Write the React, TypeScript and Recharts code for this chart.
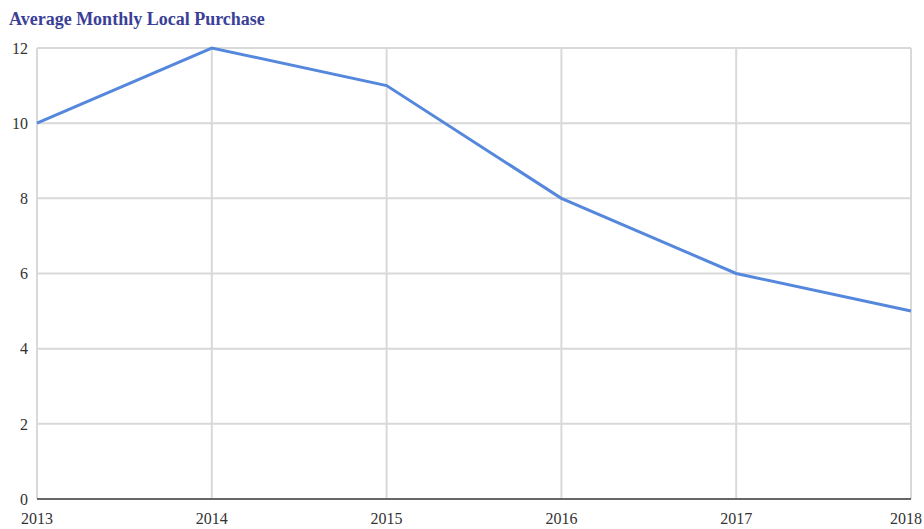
import { LineChart, Line, XAxis, YAxis, CartesianGrid } from 'recharts';

const years = ['2013', '2014', '2015', '2016', '2017', '2018'];
const purchases = [10, 12, 11, 8, 6, 5];
const yTicks = [0, 2, 4, 6, 8, 10, 12];

const data = years.map((year, i) => ({ year, value: purchases[i] }));

const FONT = '"Liberation Serif", "DejaVu Serif", serif';

function YearTick(props: any) {
  const { x, y, payload } = props;
  // keep the last label inside the picture
  const overflow = x + 18 > 922;
  return (
    <text
      x={overflow ? 922 : x}
      y={y}
      dy="0.71em"
      textAnchor={overflow ? 'end' : 'middle'}
      fill="#333"
      fontSize={16}
      fontFamily={FONT}
    >
      {payload.value}
    </text>
  );
}

export default function App() {
  return (
    <div style={{ position: 'absolute', left: 0, top: 0, width: 924, height: 529, background: '#fff' }}>
      <div
        style={{
          position: 'absolute',
          left: 9,
          top: 10,
          fontFamily: FONT,
          fontWeight: 'bold',
          fontSize: 18,
          lineHeight: '18px',
          color: '#3b3f97',
        }}
      >
        Average Monthly Local Purchase
      </div>
      <LineChart
        width={924}
        height={529}
        data={data}
        margin={{ top: 48, right: 13, left: 0, bottom: 0 }}
      >
        <CartesianGrid stroke="#d9d9d9" strokeWidth={2} />
        <XAxis
          dataKey="year"
          height={30}
          tickLine={false}
          axisLine={{ stroke: '#666', strokeWidth: 2 }}
          tickSize={0}
          tickMargin={14}
          tick={<YearTick />}
          interval={0}
        />
        <YAxis
          width={37}
          domain={[0, 12]}
          ticks={yTicks}
          axisLine={false}
          tickLine={false}
          tickSize={0}
          tickMargin={9}
          tick={{ fill: '#333', fontSize: 16, fontFamily: FONT }}
        />
        <Line
          type="linear"
          dataKey="value"
          stroke="#5588dd"
          strokeWidth={3}
          dot={false}
          isAnimationActive={false}
        />
      </LineChart>
    </div>
  );
}
